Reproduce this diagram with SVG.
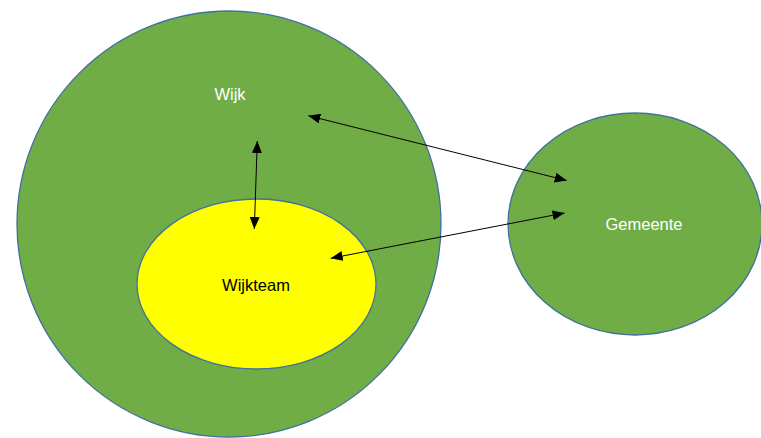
<svg xmlns="http://www.w3.org/2000/svg" width="761" height="438" viewBox="0 0 761 438">
  <style>
    .green { fill: #70AD47; stroke: #41719C; stroke-width: 1.3; }
    .yellow { fill: #FFFF00; stroke: #41719C; stroke-width: 1.3; }
    .lbl { font-family: "Liberation Sans", Arial, sans-serif; font-size: 16.5px; text-anchor: middle; }
    .white { fill: #FFFFFF; }
    .black { fill: #000000; }
    .conn { stroke: #000000; stroke-width: 1; fill: none; marker-start: url(#ah); marker-end: url(#ah); }
  </style>
  <defs>
    <marker id="ah" viewBox="0 0 12 10" refX="12" refY="5" markerWidth="12" markerHeight="10" markerUnits="userSpaceOnUse" orient="auto-start-reverse">
      <path d="M0,0 L12,5 L0,10 Z" fill="#000000"/>
    </marker>
  </defs>
  <rect width="761" height="438" fill="#FFFFFF"/>
  <g id="wijk">
    <ellipse class="green" cx="229" cy="224" rx="212" ry="213"/>
    <text class="lbl white" x="230" y="100">Wijk</text>
  </g>
  <g id="wijkteam">
    <ellipse class="yellow" cx="256.5" cy="284" rx="119.5" ry="85"/>
    <text class="lbl black" x="256" y="291">Wijkteam</text>
  </g>
  <g id="gemeente">
    <ellipse class="green" cx="635" cy="224" rx="127" ry="111"/>
    <text class="lbl white" x="644" y="230">Gemeente</text>
  </g>
  <g id="connectors">
    <line class="conn" x1="257.3" y1="141" x2="254.3" y2="229"/>
    <line class="conn" x1="308.3" y1="115.7" x2="566.7" y2="180.5"/>
    <line class="conn" x1="330.7" y1="258.3" x2="564.5" y2="213"/>
  </g>
</svg>
